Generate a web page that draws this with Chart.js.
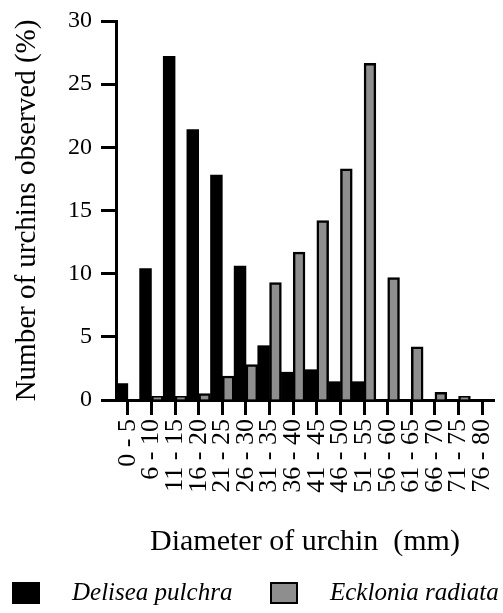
<!DOCTYPE html>
<html>
<head>
<meta charset="utf-8">
<script src="https://cdn.jsdelivr.net/npm/chart.js@4"></script>
<style>
  html, body { margin: 0; padding: 0; background: #fff; }
  #wrap { width: 503px; height: 613px; }
</style>
</head>
<body>
<div id="wrap"><canvas id="myChart" width="503" height="613"></canvas></div>
<script>
const labels = ['0 - 5', '6 - 10', '11 - 15', '16 - 20', '21 - 25', '26 - 30', '31 - 35', '36 - 40',
    '41 - 45', '46 - 50', '51 - 55', '56 - 60', '61 - 65', '66 - 70', '71 - 75', '76 - 80'];

const delisea = [1.3, 10.4, 27.2, 21.4, 17.8, 10.6, 4.3, 2.2, 2.4, 1.45, 1.45, 0, 0, 0, 0, 0];
const ecklonia = [0, 0.3, 0.3, 0.5, 1.9, 2.8, 9.3, 11.7, 14.2, 18.3, 26.65, 9.7, 4.2, 0.6, 0.3, 0];

const yTicks = [0, 5, 10, 15, 20, 25, 30];

const serif = "'Liberation Serif', 'DejaVu Serif', serif";

// legend drawn underneath, squares + italic species names
const legendPlugin = {
    id: 'bottomLegend',
    afterDraw(chart) {
        const ctx = chart.ctx;
        const items = [
            { ds: 0, box: 12, text: 72 },
            { ds: 1, box: 270, text: 330 },
        ];
        ctx.save();
        ctx.font = 'italic 25px ' + serif;
        ctx.textBaseline = 'middle';
        items.forEach(function (it) {
            const ds = chart.data.datasets[it.ds];
            ctx.fillStyle = ds.backgroundColor;
            ctx.fillRect(it.box, 582, 28, 22);
            ctx.strokeStyle = '#000';
            ctx.lineWidth = 2;
            ctx.strokeRect(it.box + 1, 583, 26, 20);
            ctx.fillStyle = '#000';
            ctx.fillText(ds.label, it.text, 593);
        });
        ctx.restore();
    },
};

const data = {
    labels: labels,
    datasets: [
        {
            label: 'Delisea pulchra',
            backgroundColor: '#000',
            borderColor: '#000',
            borderWidth: 0,
            data: delisea,
        },
        {
            label: 'Ecklonia radiata',
            backgroundColor: '#8e8e8e',
            borderColor: '#000',
            borderWidth: 2.5,
            borderSkipped: 'bottom',
            data: ecklonia,
        },
    ],
};

const config = {
    type: 'bar',
    data: data,
    plugins: [legendPlugin],
    options: {
        responsive: false,
        animation: false,
        categoryPercentage: 1.0,
        barPercentage: 1.0,
        layout: { padding: { top: 21, right: 9, bottom: 53, left: 0 } },
        plugins: {
            legend: { display: false },
            tooltip: { enabled: false },
        },
        scales: {
            x: {
                grid: { offset: false, drawOnChartArea: false, tickLength: 15, tickWidth: 3, tickColor: '#000' },
                border: { color: '#000', width: 3 },
                ticks: {
                    color: '#000',
                    font: { family: serif, size: 26 },
                    minRotation: 90,
                    maxRotation: 90,
                    autoSkip: false,
                    padding: 4,
                },
                title: {
                    display: true,
                    text: 'Diameter of urchin  (mm)',
                    color: '#000',
                    font: { family: serif, size: 30 },
                    padding: 0,
                },
                afterFit: function (scale) {
                    scale.height = 160;
                    scale.paddingLeft = 0;
                    scale.paddingRight = 0;
                },
            },
            y: {
                min: 0,
                max: 30,
                afterBuildTicks: function (scale) {
                    scale.ticks = yTicks.map(function (v) { return { value: v }; });
                },
                grid: { drawOnChartArea: false, tickLength: 15, tickWidth: 3, tickColor: '#000' },
                border: { color: '#000', width: 3 },
                ticks: {
                    color: '#000',
                    font: { family: serif, size: 24 },
                    padding: 9,
                },
                title: {
                    display: true,
                    text: 'Number of urchins observed (%)',
                    color: '#000',
                    font: { family: serif, size: 29 },
                    padding: { top: 10, bottom: 0 },
                },
                afterFit: function (scale) {
                    scale.width = 116;
                    scale.paddingTop = 0;
                    scale.paddingBottom = 0;
                },
            },
        },
    },
};
const myChart = new Chart(document.getElementById('myChart'), config);
</script>
</body>
</html>
